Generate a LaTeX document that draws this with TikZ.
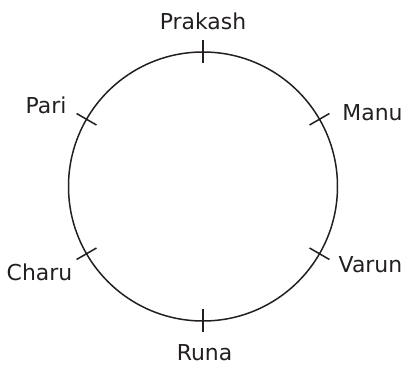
\documentclass[tikz,border=0pt]{standalone}
\usepackage{fontspec}
\setmainfont{DejaVu Sans}
\definecolor{ink}{HTML}{231F20}
\begin{document}
\begin{tikzpicture}[x=1bp,y=1bp,
  lbl/.style={font=\fontsize{22}{26}\selectfont,inner sep=0pt,anchor=base,text=ink}]
\useasboundingbox (0,0) rectangle (406,365);
\coordinate (O) at (203,178.5);
\draw[ink,line width=1.5bp] (O) circle (134.5);
\foreach \a in {90,30,150,210,330,270}
  \draw[ink,line width=1.5bp,shift={(O)}] (\a:123) -- (\a:146);
\node[lbl] (prakash) at (203,336) {Prakash};
\node[lbl] (manu) at (372.5,245) {Manu};
\node[lbl] (varun) at (370.5,93) {Varun};
\node[lbl] (runa) at (204.5,5) {Runa};
\node[lbl] (charu) at (39.5,85) {Charu};
\node[lbl] (pari) at (46,252) {Pari};
\end{tikzpicture}
\end{document}
